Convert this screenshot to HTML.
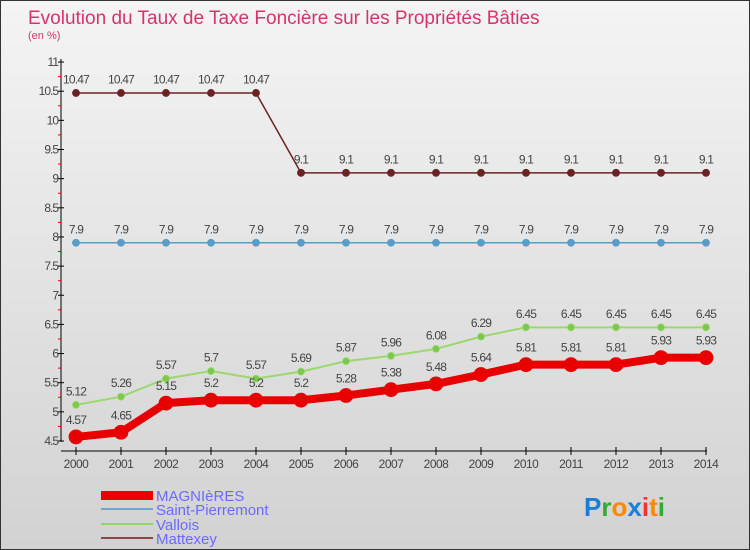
<!DOCTYPE html>
<html><head><meta charset="utf-8"><style>
body{margin:0}
#c{width:750px;height:550px;position:relative;overflow:hidden;background:linear-gradient(#f4f4f4,#d2d2d2);border:1px solid #333;box-sizing:border-box;font-family:"Liberation Sans",sans-serif}
</style></head><body>
<div id="c">
<svg id="s" width="750" height="550" style="position:absolute;left:0;top:0">
<text x="27" y="23" font-size="19" fill="#d6336c">Evolution du Taux de Taxe Foncière sur les Propriétés Bâties</text>
<text x="27" y="38" font-size="11" fill="#d6336c">(en %)</text>
<g id="axes"></g><g id="series"></g>
<g>
<rect x="100" y="490" width="52" height="9" fill="#e00"/>
<text x="155" y="500" font-size="15" fill="#6a6aff">MAGNIèRES</text>
<line x1="100" y1="508" x2="152" y2="508" stroke="#6ea6cc" stroke-width="2"/>
<text x="155" y="514" font-size="15" fill="#6a6aff">Saint-Pierremont</text>
<line x1="100" y1="523" x2="152" y2="523" stroke="#8fd46a" stroke-width="2"/>
<text x="155" y="529" font-size="15" fill="#6a6aff">Vallois</text>
<line x1="100" y1="537" x2="152" y2="537" stroke="#8a4a4a" stroke-width="2"/>
<text x="155" y="543" font-size="15" fill="#6a6aff">Mattexey</text>
</g>
<text x="583" y="515" font-size="26" font-weight="bold"><tspan fill="#1a7fd4">P</tspan><tspan fill="#3a3">r</tspan><tspan fill="#f80">o</tspan><tspan fill="#1a7fd4">x</tspan><tspan fill="#e33">i</tspan><tspan fill="#f80">t</tspan><tspan fill="#3a3">i</tspan></text>
</svg>
</div>
<script>
const years=[2000,2001,2002,2003,2004,2005,2006,2007,2008,2009,2010,2011,2012,2013,2014];
const magnieres=[4.57,4.65,5.15,5.2,5.2,5.2,5.28,5.38,5.48,5.64,5.81,5.81,5.81,5.93,5.93];
const stPierremont=[7.9,7.9,7.9,7.9,7.9,7.9,7.9,7.9,7.9,7.9,7.9,7.9,7.9,7.9,7.9];
const vallois=[5.12,5.26,5.57,5.7,5.57,5.69,5.87,5.96,6.08,6.29,6.45,6.45,6.45,6.45,6.45];
const mattexey=[10.47,10.47,10.47,10.47,10.47,9.1,9.1,9.1,9.1,9.1,9.1,9.1,9.1,9.1,9.1];
const yTicks=[4.5,5,5.5,6,6.5,7,7.5,8,8.5,9,9.5,10,10.5,11];
const NS='http://www.w3.org/2000/svg';
const xs=i=>75+i*45, ys=v=>440-(v-4.5)*58.3;
function mk(p,t,a){const e=document.createElementNS(NS,t);for(const k in a)e.setAttribute(k,a[k]);p.appendChild(e);return e;}
const ax=document.getElementById('axes'), se=document.getElementById('series');
let l=mk(ax,'line',{x1:60,y1:58,x2:60,y2:441,stroke:'#000'});


l=mk(ax,'line',{x1:60,y1:450,x2:706,y2:450,stroke:'#000'});


yTicks.forEach(v=>{
 mk(ax,'line',{x1:57,y1:ys(v),x2:63,y2:ys(v),stroke:'#000'});
 const t=mk(ax,'text',{x:57,y:ys(v)+4,'text-anchor':'end','font-size':12,fill:'#444','letter-spacing':'-1'});t.textContent=v;
 
 
 if(v<11) mk(ax,'line',{x1:57,y1:ys(v+0.25),x2:60,y2:ys(v+0.25),stroke:'#e00'});
});
years.forEach((y,i)=>{
 mk(ax,'line',{x1:xs(i),y1:446,x2:xs(i),y2:454,stroke:'#000'});
 const t=mk(ax,'text',{x:xs(i),y:467,'text-anchor':'middle','font-size':12,fill:'#444','letter-spacing':'-0.5'});t.textContent=y;
 
 
});
function series(d,col,w,r,name,fc){
 const p=mk(se,'polyline',{points:d.map((v,i)=>xs(i)+','+ys(v)).join(' '),fill:'none',stroke:col,'stroke-width':w});
 
 
 d.forEach((v,i)=>{
  const c=mk(se,'circle',{cx:xs(i),cy:ys(v),r:r,fill:fc,stroke:col,'stroke-width':0.8});
  
  
  const t=mk(se,'text',{x:xs(i),y:ys(v)-(r+6),'text-anchor':'middle','font-size':12,fill:'#444','letter-spacing':'-0.8'});t.textContent=v;
  
  
 });
}
series(mattexey,'#6b2222',1.5,3.5,'mattexey','#6b2222');
series(stPierremont,'#5a9bc8',1.5,3.5,'saint-pierremont','#5a9bc8');
series(vallois,'#9bd86e',2,3.5,'vallois','#7cc84c');
series(magnieres,'#e80000',8,7,'magnieres','#e80000');
</script>
</body></html>
